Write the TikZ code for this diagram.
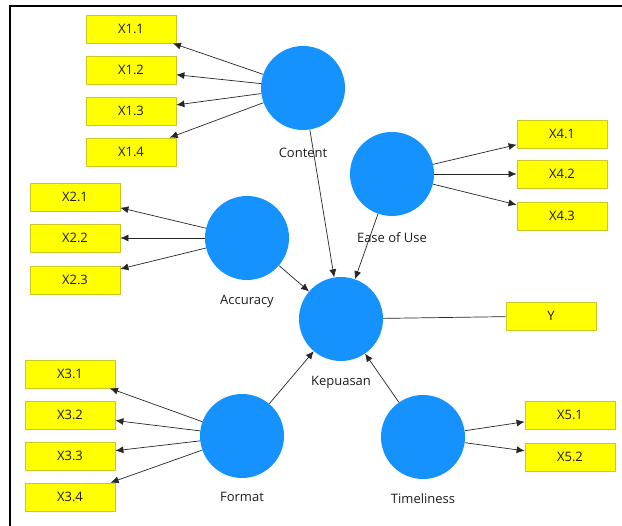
\documentclass[tikz,border=0pt]{standalone}
\usepackage{fontspec}
\setmainfont{Open Sans}
\usetikzlibrary{arrows.meta}
\definecolor{lvblue}{RGB}{22,146,255}
\definecolor{indfill}{RGB}{255,255,0}
\definecolor{indedge}{RGB}{200,200,40}
\definecolor{txt}{RGB}{30,30,30}
\tikzset{
  latent/.style={circle, fill=lvblue, draw=none, minimum size=84pt, inner sep=0pt},
  indicator/.style={rectangle, fill=indfill, draw=indedge, line width=0.8pt,
    minimum width=90pt, minimum height=28pt, inner sep=0pt,
    font=\fontsize{13}{15}\selectfont, text=txt},
  lvlabel/.style={font=\fontsize{13}{15}\selectfont, text=txt, inner sep=0pt},
  load/.style={-{Latex[length=8pt,width=7pt]}, line width=0.7pt, draw=black!85},
  path/.style={-{Latex[length=8pt,width=7pt]}, line width=0.7pt, draw=black!85},
  plain/.style={line width=0.7pt, draw=black!85}
}
\begin{document}
\begin{tikzpicture}[x=1pt,y=-1pt]
\useasboundingbox (0,0) rectangle (622,526);
\fill[white] (0,0) rectangle (622,526);
% window frame
\draw[line width=2pt] (10,526) -- (10,6) -- (622,6);

% latent variables
\node[latent] (content) at (303,88) {};
\node[latent] (ease) at (392,174) {};
\node[latent] (accuracy) at (247,238) {};
\node[latent] (kepuasan) at (341,319) {};
\node[latent] (format) at (242,436) {};
\node[latent] (timeliness) at (423,437) {};

\node[lvlabel] (content-l) at (303,153) {Content};
\node[lvlabel] (ease-l) at (392,238) {Ease of Use};
\node[lvlabel] (accuracy-l) at (247,301) {Accuracy};
\node[lvlabel] (kepuasan-l) at (341,382) {Kepuasan};
\node[lvlabel] (format-l) at (242,497) {Format};
\node[lvlabel] (timeliness-l) at (423,499) {Timeliness};

% indicators
\node[indicator] (x11) at (131,29) {X1.1};
\node[indicator] (x12) at (131,70) {X1.2};
\node[indicator] (x13) at (131,111) {X1.3};
\node[indicator] (x14) at (131,152) {X1.4};
\node[indicator] (x21) at (75,197) {X2.1};
\node[indicator] (x22) at (75,238) {X2.2};
\node[indicator] (x23) at (75,280) {X2.3};
\node[indicator] (x31) at (70,374) {X3.1};
\node[indicator] (x32) at (70,415) {X3.2};
\node[indicator] (x33) at (70,456) {X3.3};
\node[indicator] (x34) at (70,497) {X3.4};
\node[indicator] (x41) at (562,134) {X4.1};
\node[indicator] (x42) at (562,174) {X4.2};
\node[indicator] (x43) at (562,216) {X4.3};
\node[indicator] (y) at (551,316) {Y};
\node[indicator] (x51) at (570,415) {X5.1};
\node[indicator] (x52) at (570,457) {X5.2};

% outer loadings
\foreach \i in {x11,x12,x13,x14} \draw[load] (content) -- (\i);
\foreach \i in {x21,x22,x23} \draw[load] (accuracy) -- (\i);
\foreach \i in {x31,x32,x33,x34} \draw[load] (format) -- (\i);
\foreach \i in {x41,x42,x43} \draw[load] (ease) -- (\i);
\foreach \i in {x51,x52} \draw[load] (timeliness) -- (\i);
\draw[plain] (kepuasan) -- (y);

% structural paths
\draw[path] (content) -- (kepuasan);
\draw[path] (ease) -- (kepuasan);
\draw[path] (accuracy) -- (kepuasan);
\draw[path] (format) -- (kepuasan);
\draw[path] (timeliness) -- (kepuasan);
\end{tikzpicture}
\end{document}
